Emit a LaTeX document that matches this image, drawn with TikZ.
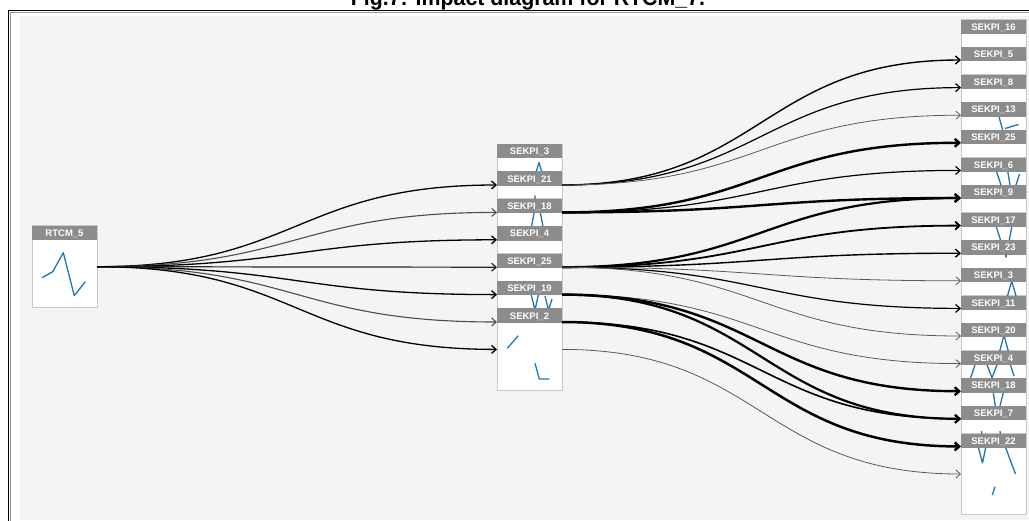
\documentclass[tikz,border=0pt]{standalone}
\usepackage{fontspec}
\setmainfont{Liberation Sans}
\usetikzlibrary{arrows.meta}
\definecolor{panel}{RGB}{244,244,244}
\definecolor{hdrfill}{RGB}{140,140,140}
\definecolor{boxline}{RGB}{200,200,200}
\definecolor{sparkblue}{RGB}{31,119,180}
\definecolor{framegray}{RGB}{150,150,150}

% a node box: white body with a thin border (name, x, top, height)
\newcommand\kpibody[4]{\node[kpibox=#4] (#1) at (#2,#3) {};}
% the grey title bar on top of a node box
\newcommand\kpihead[2]{%
  \fill[hdrfill] (#1.north west) rectangle ([yshift=-14.3pt]#1.north east);
  \node[hdrtext] (#1-t) at ([yshift=-10.6pt]#1.north) {#2};}

\begin{document}
\begin{tikzpicture}[x=1pt,y=-1pt,
  kpibox/.style={draw=boxline, fill=white, line width=0.8pt, minimum width=65pt,
    minimum height=#1, inner sep=0pt, outer sep=0pt, anchor=north west},
  kpibox/.default=82pt,
  hdrtext/.style={text=white, font=\bfseries\fontsize{9.5}{10}\selectfont,
    inner sep=0pt, anchor=base},
  spark/.style={draw=sparkblue, line width=1.3pt, line join=round},
  link/.style={line width=#1pt, -{Straight Barb[length=4.5pt,width=8pt]}},
]
\useasboundingbox (0,0) rectangle (1029,520);

% panel and frame
\fill[panel] (20,16) rectangle (1029,520);
\draw[black, line width=1.8pt] (8.5,521) -- (8.5,10.5) -- (1030,10.5);
\draw[framegray, line width=0.7pt] (10.8,521) -- (10.8,12.6) -- (1030,12.6);

% caption
\node[anchor=base, font=\bfseries\fontsize{22}{24}\selectfont, inner sep=0pt]
  (title) at (528,5.5) {\scalebox{0.97}[1]{Fig.7: Impact diagram for RTCM\_7.}};

% ---------- source node ----------
\kpibody{rtcm}{32}{225.7}{82pt}
\draw[spark] (42,277.7) -- (52.7,271.7) -- (63.3,252.7) -- (74.3,295.7) -- (85.3,281.7);
\kpihead{rtcm}{RTCM\_5}

% ---------- middle column ----------
\kpibody{m0}{497}{144}{82pt}
\kpibody{m1}{497}{171.4}{82pt}
\kpibody{m2}{497}{198.8}{82pt}
\kpibody{m3}{497}{226.2}{82pt}
\kpibody{m4}{497}{253.6}{82pt}
\kpibody{m5}{497}{281}{82pt}
\kpibody{m6}{497}{308.4}{82pt}
% trend lines
\draw[spark] (535.5,174) -- (539,162.5) -- (542.5,174);
\draw[spark] (534.8,195.5) -- (535.3,200);
\draw[spark] (531,229) -- (534.5,211);
\draw[spark] (540,211) -- (543.5,229);
\draw[spark] (531,294) -- (535,310) -- (538.5,294);
\draw[spark] (545,296) -- (548.5,310) -- (552,299);
\draw[spark] (507.3,348.3) -- (518.3,335.7);
\draw[spark] (535,363.3) -- (539.3,379) -- (549.3,379);
\kpihead{m0}{SEKPI\_3}
\kpihead{m1}{SEKPI\_21}
\kpihead{m2}{SEKPI\_18}
\kpihead{m3}{SEKPI\_4}
\kpihead{m4}{SEKPI\_25}
\kpihead{m5}{SEKPI\_19}
\kpihead{m6}{SEKPI\_2}

% ---------- right column ----------
\foreach \i in {0,...,15} {
  \pgfmathsetmacro\top{19.5+27.6*\i}
  \kpibody{r\i}{961}{\top}{81pt}
}
% trend lines
\draw[spark] (998.5,115) -- (1003.5,133);
\draw[spark] (1005,128.5) -- (1018.5,124.5);
\draw[spark] (996,170) -- (1002,188);
\draw[spark] (1007.5,170) -- (1010.5,188);
\draw[spark] (1015,188) -- (1019.5,174);
\draw[spark] (996,226) -- (1006,257) -- (1012,226);
\draw[spark] (1007.5,296) -- (1011.7,281) -- (1016,296);
\draw[spark] (999.5,352) -- (1004,335) -- (1008.5,352);
\draw[spark] (970.5,378) -- (976,362);
\draw[spark] (986,362) -- (992,378) -- (998,362);
\draw[spark] (1009.5,362) -- (1014,376);
\draw[spark] (993,390) -- (995.5,408);
\draw[spark] (999.5,408) -- (1004,390);
\draw[spark] (981.5,431) -- (982,436);
\draw[spark] (1000,431) -- (1000.5,436);
\draw[spark] (978,446) -- (982.5,463) -- (986,446);
\draw[spark] (1005,446) -- (1015.5,474);
\draw[spark] (992.3,495) -- (995,486.7);
\kpihead{r0}{SEKPI\_16}
\kpihead{r1}{SEKPI\_5}
\kpihead{r2}{SEKPI\_8}
\kpihead{r3}{SEKPI\_13}
\kpihead{r4}{SEKPI\_25}
\kpihead{r5}{SEKPI\_6}
\kpihead{r6}{SEKPI\_9}
\kpihead{r7}{SEKPI\_17}
\kpihead{r8}{SEKPI\_23}
\kpihead{r9}{SEKPI\_3}
\kpihead{r10}{SEKPI\_11}
\kpihead{r11}{SEKPI\_20}
\kpihead{r12}{SEKPI\_4}
\kpihead{r13}{SEKPI\_18}
\kpihead{r14}{SEKPI\_7}
\kpihead{r15}{SEKPI\_22}

% ---------- links: source to middle ----------
\foreach \m/\w/\s in {m0/1.3/black, m1/1.1/black!70, m2/1.3/black, m3/1.2/black!85,
                      m4/1.3/black, m5/1.1/black!70, m6/1.3/black}
  \draw[link=\w, draw=\s] (rtcm.east) .. controls +(200,0) and +(-200,0) .. (\m.west);

% ---------- links: middle to right ----------
\foreach \a/\b/\w/\s in {
    m0/r0/1.4/black, m0/r1/1.2/black, m0/r2/0.8/black!65,
    m1/r3/2.4/black, m1/r4/1.2/black, m1/r5/2.4/black,
    m3/r5/2.2/black, m3/r6/1.8/black, m3/r7/1.4/black, m3/r8/0.8/black!65,
    m3/r9/1.2/black, m3/r10/0.8/black!65,
    m4/r11/0.8/black!65, m4/r12/2.4/black, m4/r13/2.2/black,
    m5/r13/1.6/black, m5/r14/2.5/black,
    m6/r15/0.8/black!65}
  \draw[link=\w, draw=\s] (\a.east) .. controls +(199.5,0) and +(-199.5,0) .. (\b.west);
\end{tikzpicture}
\end{document}
